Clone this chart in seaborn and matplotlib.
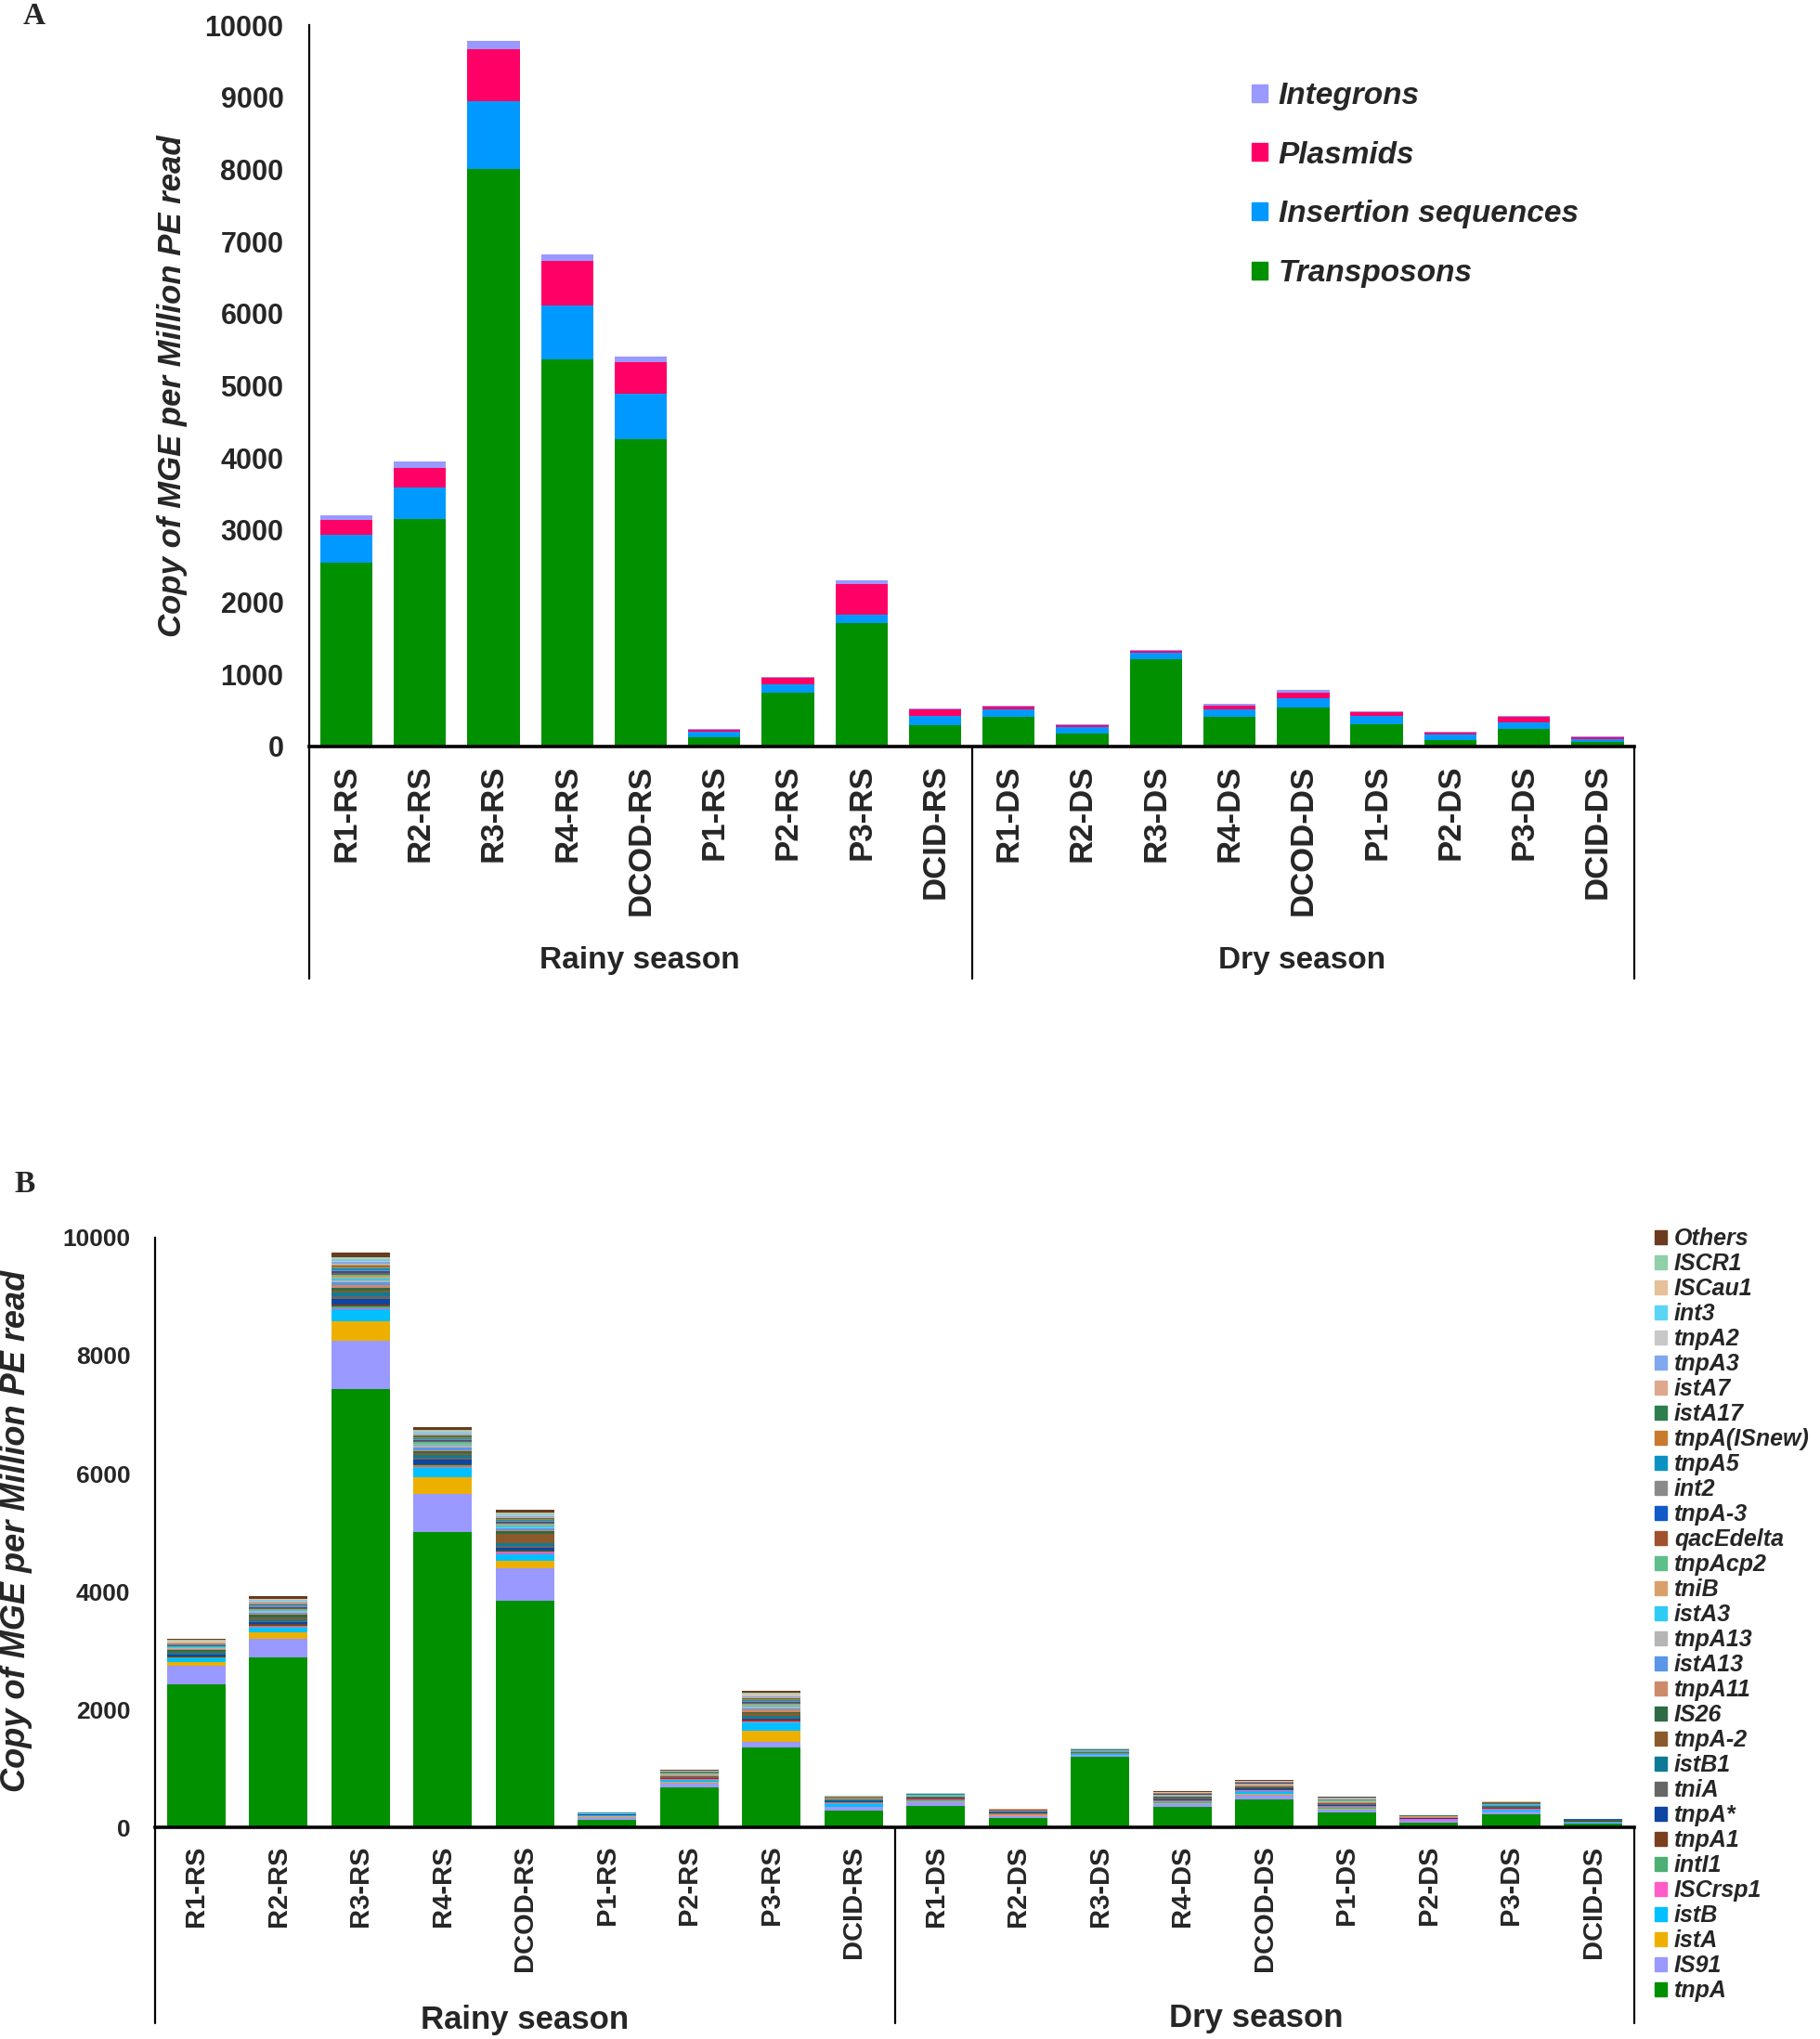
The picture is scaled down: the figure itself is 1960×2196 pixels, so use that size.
import numpy as np
import pandas as pd
import matplotlib
matplotlib.use('Agg')
import matplotlib.pyplot as plt
from matplotlib.patches import Patch
import seaborn as sns

# sample names (rainy season first, then dry season)
samples = ['R1-RS', 'R2-RS', 'R3-RS', 'R4-RS', 'DCOD-RS', 'P1-RS', 'P2-RS', 'P3-RS', 'DCID-RS',
           'R1-DS', 'R2-DS', 'R3-DS', 'R4-DS', 'DCOD-DS', 'P1-DS', 'P2-DS', 'P3-DS', 'DCID-DS']

# ---- Panel A: MGE types (copies per million PE read) ----
transposons = [2550, 3155, 8000, 5370, 4265, 130, 742, 1705, 300, 408, 176, 1205, 408, 545, 309, 94, 245, 64]
insertion_seq = [385, 430, 945, 740, 620, 76, 116, 128, 120, 107, 94, 95, 111, 124, 111, 73, 85, 43]
plasmids = [210, 275, 720, 620, 440, 26, 100, 425, 99, 43, 22, 21, 43, 82, 52, 26, 82, 17]
integrons = [60, 90, 110, 95, 80, 10, 10, 47, 10, 13, 13, 13, 34, 38, 13, 9, 8, 13]

type_names = ['Transposons', 'Insertion sequences', 'Plasmids', 'Integrons']
type_colors = ['#009000', '#0099FF', '#FF0066', '#9999FF']

# ---- Panel B: MGE subtypes, bottom of stack first ----
tnpA = [2430, 2885, 7435, 5010, 3840, 120, 675, 1355, 280, 367, 157, 1195, 346, 477, 257, 79, 225, 58]
IS91 = [310, 310, 820, 645, 560, 55, 75, 90, 60, 60, 35, 30, 55, 78, 50, 25, 40, 18]
istA = [70, 120, 330, 280, 125, 8, 20, 190, 15, 10, 8, 8, 10, 15, 12, 5, 10, 4]
istB = [50, 78, 195, 155, 110, 15, 30, 140, 45, 20, 10, 8, 20, 40, 15, 8, 25, 8]
ISCrsp1 = [12, 15, 25, 25, 20, 8, 12, 15, 15, 15, 18, 10, 15, 15, 18, 20, 10, 8]
intI1 = [10, 15, 25, 20, 20, 3, 8, 10, 8, 8, 8, 5, 10, 12, 10, 6, 8, 5]
tnpA1 = [15, 20, 40, 25, 25, 3, 8, 25, 5, 6, 6, 4, 8, 8, 8, 4, 6, 3]
tnpA_star = [25, 30, 95, 70, 45, 3, 10, 20, 8, 6, 6, 5, 10, 10, 8, 4, 6, 3]
tniA = [15, 25, 40, 30, 25, 3, 8, 20, 6, 6, 6, 5, 12, 10, 10, 4, 8, 3]
istB1 = [30, 35, 60, 50, 50, 3, 10, 30, 10, 8, 6, 5, 10, 12, 10, 4, 10, 3]
tnpA_2 = [15, 30, 35, 30, 160, 2, 8, 40, 8, 5, 5, 4, 8, 10, 8, 3, 8, 3]
IS26 = [25, 40, 45, 35, 40, 2, 8, 25, 6, 6, 5, 5, 10, 10, 8, 4, 8, 3]
tnpA11 = [10, 20, 55, 25, 20, 2, 8, 45, 5, 5, 4, 4, 8, 8, 8, 4, 6, 2]
istA13 = [10, 20, 40, 40, 25, 2, 6, 15, 5, 5, 4, 4, 6, 8, 6, 3, 6, 2]
tnpA13 = [12, 20, 35, 25, 20, 2, 8, 30, 6, 6, 4, 4, 8, 8, 8, 4, 8, 2]
istA3 = [10, 15, 35, 25, 30, 2, 6, 15, 5, 5, 3, 4, 6, 8, 6, 3, 6, 2]
tniB = [10, 15, 30, 20, 20, 2, 6, 20, 4, 4, 3, 3, 6, 6, 6, 3, 5, 2]
tnpAcp2 = [10, 15, 30, 20, 20, 2, 6, 15, 4, 4, 3, 3, 6, 6, 6, 3, 5, 2]
qacEdelta = [8, 15, 30, 20, 15, 2, 5, 15, 4, 4, 3, 3, 5, 5, 5, 2, 4, 2]
tnpA_3 = [10, 15, 30, 20, 15, 2, 5, 15, 4, 4, 3, 3, 5, 5, 5, 2, 4, 2]
int2 = [10, 20, 25, 20, 15, 2, 5, 15, 4, 4, 3, 3, 5, 5, 5, 2, 4, 2]
tnpA5 = [8, 15, 25, 15, 15, 2, 5, 15, 4, 3, 2, 3, 4, 5, 4, 2, 3, 1]
tnpA_ISnew = [8, 15, 25, 15, 15, 1, 5, 20, 3, 3, 2, 2, 4, 4, 4, 2, 3, 1]
istA17 = [8, 15, 25, 20, 15, 1, 5, 15, 3, 3, 2, 2, 4, 4, 4, 2, 3, 1]
istA7 = [8, 12, 25, 15, 15, 1, 5, 15, 3, 3, 2, 2, 4, 4, 4, 2, 3, 1]
tnpA3 = [10, 15, 30, 20, 20, 1, 5, 15, 3, 3, 2, 2, 4, 4, 4, 2, 3, 1]
tnpA2 = [10, 15, 25, 15, 15, 1, 5, 20, 3, 3, 2, 2, 4, 4, 4, 2, 3, 1]
int3 = [8, 12, 20, 15, 20, 1, 4, 15, 3, 3, 2, 2, 4, 4, 4, 2, 3, 1]
ISCau1 = [8, 12, 20, 15, 15, 1, 4, 15, 3, 3, 2, 2, 4, 4, 4, 2, 3, 1]
ISCR1 = [10, 12, 25, 15, 15, 1, 4, 15, 3, 3, 2, 2, 4, 4, 4, 2, 3, 1]
others = [20, 40, 70, 50, 40, 2, 8, 30, 6, 5, 3, 4, 5, 8, 10, 2, 4, 2]

gene_names = ['tnpA', 'IS91', 'istA', 'istB', 'ISCrsp1', 'intI1', 'tnpA1', 'tnpA*', 'tniA', 'istB1',
              'tnpA-2', 'IS26', 'tnpA11', 'istA13', 'tnpA13', 'istA3', 'tniB', 'tnpAcp2', 'qacEdelta',
              'tnpA-3', 'int2', 'tnpA5', 'tnpA(ISnew)', 'istA17', 'istA7', 'tnpA3', 'tnpA2', 'int3',
              'ISCau1', 'ISCR1', 'Others']
gene_values = [tnpA, IS91, istA, istB, ISCrsp1, intI1, tnpA1, tnpA_star, tniA, istB1,
               tnpA_2, IS26, tnpA11, istA13, tnpA13, istA3, tniB, tnpAcp2, qacEdelta,
               tnpA_3, int2, tnpA5, tnpA_ISnew, istA17, istA7, tnpA3, tnpA2, int3,
               ISCau1, ISCR1, others]
gene_colors = ['#009000', '#9999FF', '#EDB000', '#00C0FF', '#FF5CC8', '#4CAF73', '#7A3F1E', '#0F45A0',
               '#666666', '#0F7A96', '#8B5A2B', '#2E6B45', '#CD8A68', '#5B95E8', '#B5B5B5', '#2ECBF5',
               '#D9A06B', '#5FBF8A', '#A0522D', '#1259C9', '#8A8A8A', '#0A93C2', '#C87A2E', '#2E7D4F',
               '#DDA88E', '#7FA8EE', '#C8C8C8', '#5BD5F5', '#E6C09A', '#8FD0A8', '#6B3A1F']

sns.set_style('white')
plt.rcParams['font.family'] = ['Liberation Sans', 'DejaVu Sans']

fig = plt.figure(figsize=(19.6, 21.96), dpi=100)
axA = fig.add_axes([0.170, 0.6339, 0.728, 0.3538])
axB = fig.add_axes([0.0852, 0.1038, 0.8128, 0.2892])


def stacked_bars(ax, layers, colors):
    # draw cumulative totals from the top layer down so each layer sits on the one below
    cum = np.cumsum(np.array(layers, dtype=float), axis=0)
    for i in range(len(layers) - 1, -1, -1):
        df = pd.DataFrame({'sample': samples, 'value': cum[i]})
        sns.barplot(data=df, x='sample', y='value', order=samples, color=colors[i],
                    saturation=1, width=0.71, linewidth=0, errorbar=None, ax=ax)


def style_axes(ax, ytick_size, xtick_size, ypad, yticks, bracket_depth):
    ax.set_xlim(-0.5, 17.5)
    ax.set_ylim(0, 10000)
    ax.set_yticks(yticks)
    ax.set_yticklabels([str(t) for t in yticks], fontsize=ytick_size, fontweight='bold')
    ax.set_xticks(range(len(samples)))
    ax.set_xticklabels(samples, rotation=90, fontsize=xtick_size, fontweight='bold')
    ax.tick_params(axis='both', length=0)
    ax.tick_params(axis='y', pad=ypad)
    ax.tick_params(axis='x', pad=14)
    ax.set_xlabel('')
    ax.set_ylabel('')
    sns.despine(ax=ax)
    ax.spines['left'].set_linewidth(1.6)
    ax.spines['left'].set_color('black')
    ax.spines['bottom'].set_linewidth(2.6)
    ax.spines['bottom'].set_color('black')
    # group brackets under the sample names
    for xv in [-0.5, 8.5, 17.5]:
        ax.plot([xv, xv], [0, -bracket_depth], color='black', lw=1.6,
                transform=ax.get_xaxis_transform(), clip_on=False)


# ---- Panel A ----
stacked_bars(axA, [transposons, insertion_seq, plasmids, integrons], type_colors)
style_axes(axA, 22, 25, 20, list(range(0, 10001, 1000)), 0.322)
handlesA = [Patch(color=c) for c in type_colors[::-1]]
axA.legend(handlesA, type_names[::-1], loc='upper left', bbox_to_anchor=(0.688, 0.9600),
           bbox_transform=fig.transFigure, frameon=False, borderpad=0, borderaxespad=0,
           handlelength=0.5, handleheight=0.5, handletextpad=0.35, labelspacing=0.98,
           prop={'size': 24, 'weight': 'bold', 'style': 'italic'})

# ---- Panel B ----
stacked_bars(axB, gene_values, gene_colors)
style_axes(axB, 19, 21, 19, list(range(0, 10001, 2000)), 0.332)
handlesB = [Patch(color=c) for c in gene_colors[::-1]]
axB.legend(handlesB, gene_names[::-1], loc='upper left', bbox_to_anchor=(0.909, 0.398),
           bbox_transform=fig.transFigure, frameon=False, borderpad=0, borderaxespad=0,
           handlelength=0.55, handleheight=0.55, handletextpad=0.3, labelspacing=0.12,
           prop={'size': 18, 'weight': 'bold', 'style': 'italic'})

# axis titles, group names and panel letters
ylab = 'Copy of MGE per Million PE read'
fig.text(186 / 1960, 1 - 416 / 2196, ylab, rotation=90, ha='center', va='center',
         fontsize=25, fontweight='bold', style='italic')
fig.text(18 / 1960, 1 - 1649 / 2196, ylab, rotation=90, ha='center', va='center',
         fontsize=26, fontweight='bold', style='italic')

fig.text(689 / 1960, 1 - 1034 / 2196, 'Rainy season', ha='center', va='center', fontsize=24, fontweight='bold')
fig.text(1402 / 1960, 1 - 1034 / 2196, 'Dry season', ha='center', va='center', fontsize=24, fontweight='bold')
fig.text(565 / 1960, 1 - 2176 / 2196, 'Rainy season', ha='center', va='center', fontsize=25, fontweight='bold')
fig.text(1353 / 1960, 1 - 2174 / 2196, 'Dry season', ha='center', va='center', fontsize=25, fontweight='bold')

fig.text(37 / 1960, 1 - 17 / 2196, 'A', ha='center', va='center', fontsize=24, fontweight='bold',
         family='Liberation Serif')
fig.text(27 / 1960, 1 - 1275 / 2196, 'B', ha='center', va='center', fontsize=24, fontweight='bold',
         family='Liberation Serif')

fig.savefig('out.png', dpi=100, facecolor='white')
